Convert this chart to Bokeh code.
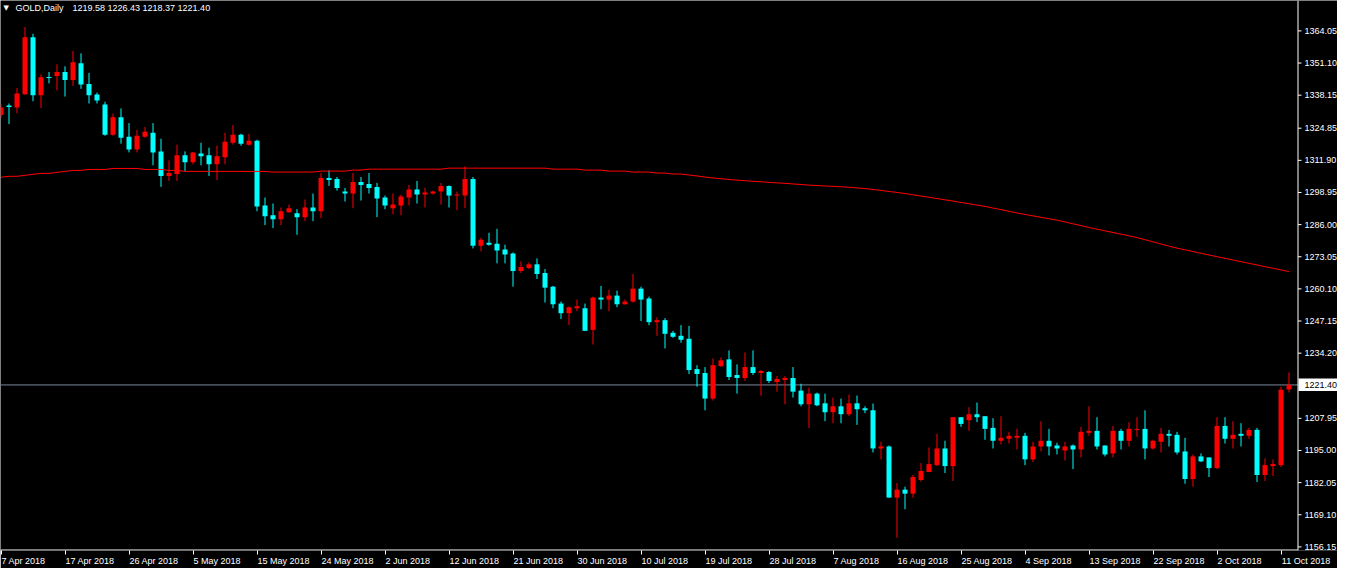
from bokeh.plotting import figure
from bokeh.models import FixedTicker, Label, Range1d
from bokeh.core.properties import value
from bokeh.embed import file_html
from bokeh.resources import INLINE

symbol = "GOLD,Daily"

opens = [
    1330.2, 1334.0, 1333.2, 1338.5, 1361.5, 1338.1, 1345.5, 1345.9, 1347.5, 1344.3,
    1351.0, 1342.7, 1338.4, 1334.4, 1322.2, 1329.3, 1321.4, 1316.3, 1321.4, 1323.0,
    1315.5, 1305.6, 1306.4, 1313.9, 1311.1, 1314.7, 1313.9, 1310.3, 1313.1, 1319.0,
    1322.2, 1318.2, 1319.8, 1293.7, 1289.8, 1288.2, 1291.0, 1290.6, 1289.0, 1292.9,
    1291.4, 1304.8, 1304.4, 1299.3, 1298.5, 1303.2, 1302.4, 1301.2, 1296.9, 1292.6,
    1293.7, 1296.9, 1300.1, 1298.1, 1298.5, 1299.3, 1301.6, 1297.7, 1297.7, 1304.4,
    1277.5, 1278.7, 1278.3, 1276.0, 1274.4, 1267.3, 1268.5, 1270.0, 1266.5, 1261.0,
    1254.2, 1250.3, 1252.3, 1252.3, 1243.6, 1256.6, 1255.8, 1257.4, 1253.9, 1255.0,
    1260.2, 1256.2, 1246.7, 1247.5, 1242.4, 1241.2, 1240.0, 1227.8, 1226.2, 1215.9,
    1229.0, 1231.7, 1225.4, 1224.2, 1228.6, 1226.2, 1226.6, 1222.6, 1223.4, 1224.2,
    1219.1, 1213.6, 1217.9, 1214.0, 1210.4, 1212.8, 1209.6, 1214.0, 1212.0, 1211.2,
    1195.8, 1196.6, 1176.0, 1179.2, 1177.6, 1183.1, 1186.3, 1189.1, 1195.8, 1188.7,
    1208.4, 1207.2, 1209.6, 1208.8, 1204.1, 1198.9, 1199.7, 1200.1, 1200.9, 1191.4,
    1196.6, 1198.9, 1197.0, 1195.0, 1197.0, 1195.4, 1202.1, 1202.9, 1197.0, 1193.8,
    1202.9, 1198.9, 1203.3, 1203.7, 1195.8, 1198.5, 1201.7, 1201.3, 1194.6, 1183.5,
    1192.6, 1192.2, 1187.9, 1204.9, 1199.7, 1201.7, 1200.9, 1203.3, 1185.1, 1188.7,
    1189.1, 1219.58,
]
highs = [
    1334.4, 1334.8, 1341.0, 1365.6, 1362.9, 1346.5, 1347.5, 1350.6, 1349.8, 1356.0,
    1355.0, 1347.1, 1339.2, 1335.5, 1330.7, 1332.8, 1326.9, 1324.2, 1325.3, 1326.9,
    1320.6, 1311.9, 1318.2, 1315.5, 1315.3, 1319.0, 1317.0, 1317.8, 1323.0, 1326.1,
    1322.6, 1322.6, 1320.2, 1296.9, 1294.5, 1292.9, 1294.1, 1292.2, 1296.1, 1298.5,
    1306.8, 1307.9, 1305.2, 1300.8, 1306.8, 1305.2, 1306.8, 1302.8, 1297.7, 1298.5,
    1298.1, 1302.0, 1303.6, 1300.8, 1299.7, 1302.8, 1301.8, 1299.3, 1309.5, 1305.2,
    1280.7, 1282.7, 1284.3, 1277.9, 1274.8, 1271.2, 1270.8, 1272.4, 1268.1, 1261.3,
    1255.0, 1253.0, 1255.8, 1254.2, 1257.0, 1261.3, 1259.8, 1259.4, 1255.8, 1266.1,
    1261.0, 1257.0, 1248.7, 1248.3, 1243.2, 1245.5, 1245.2, 1229.35, 1228.6, 1232.1,
    1232.5, 1235.3, 1229.7, 1234.5, 1235.3, 1227.4, 1227.0, 1225.0, 1225.0, 1228.6,
    1221.9, 1220.3, 1218.3, 1217.9, 1216.3, 1215.9, 1217.5, 1217.1, 1212.8, 1213.9,
    1198.5, 1197.0, 1181.9, 1180.4, 1185.1, 1189.9, 1196.2, 1201.7, 1198.9, 1208.4,
    1208.4, 1212.4, 1214.3, 1208.8, 1208.0, 1208.8, 1202.5, 1203.7, 1202.1, 1198.5,
    1206.8, 1203.7, 1198.1, 1198.5, 1197.4, 1204.5, 1212.8, 1208.4, 1197.0, 1204.9,
    1203.7, 1206.4, 1208.4, 1211.2, 1199.3, 1204.1, 1203.3, 1202.5, 1200.1, 1193.4,
    1193.8, 1192.2, 1208.4, 1208.4, 1206.8, 1206.0, 1204.1, 1204.1, 1191.8, 1191.4,
    1220.7, 1226.43,
]
lows = [
    1329.0, 1326.5, 1330.9, 1338.3, 1335.7, 1333.0, 1342.9, 1340.1, 1337.6, 1341.9,
    1340.7, 1334.8, 1334.8, 1321.8, 1321.8, 1318.6, 1315.1, 1315.1, 1321.0, 1309.9,
    1301.2, 1303.6, 1303.6, 1307.6, 1310.3, 1309.9, 1305.6, 1304.0, 1310.3, 1318.2,
    1317.8, 1317.8, 1291.4, 1285.8, 1284.6, 1285.8, 1290.8, 1281.9, 1287.4, 1287.4,
    1288.6, 1301.6, 1299.7, 1295.3, 1292.6, 1295.7, 1298.5, 1289.0, 1292.2, 1290.2,
    1289.8, 1293.7, 1294.5, 1292.9, 1298.1, 1294.1, 1292.9, 1291.8, 1292.6, 1276.4,
    1275.2, 1277.5, 1270.4, 1270.4, 1261.0, 1266.5, 1268.1, 1264.1, 1254.6, 1252.3,
    1247.9, 1245.5, 1251.1, 1243.2, 1237.7, 1251.9, 1251.1, 1252.7, 1253.8, 1254.6,
    1247.1, 1245.5, 1241.2, 1236.1, 1240.4, 1238.4, 1225.8, 1220.7, 1211.2, 1215.1,
    1228.6, 1223.4, 1217.9, 1223.0, 1225.4, 1217.1, 1222.2, 1218.7, 1213.6, 1216.3,
    1212.8, 1204.1, 1212.8, 1206.8, 1206.0, 1206.0, 1208.8, 1205.3, 1210.0, 1194.2,
    1191.4, 1176.0, 1159.8, 1171.3, 1176.0, 1182.4, 1186.3, 1188.7, 1185.9, 1182.7,
    1204.5, 1202.9, 1206.4, 1199.3, 1195.8, 1197.4, 1197.8, 1195.4, 1189.1, 1190.3,
    1194.6, 1193.0, 1193.4, 1191.0, 1187.5, 1192.2, 1200.9, 1195.4, 1192.6, 1192.2,
    1195.4, 1196.6, 1200.5, 1191.4, 1195.4, 1194.2, 1196.6, 1193.4, 1181.6, 1180.4,
    1190.3, 1184.3, 1187.5, 1197.8, 1195.8, 1196.6, 1199.7, 1182.3, 1182.7, 1184.7,
    1188.3, 1218.37,
]
closes = [
    1333.2, 1333.4, 1338.8, 1361.5, 1338.1, 1345.4, 1345.1, 1347.5, 1344.3, 1351.4,
    1342.5, 1338.1, 1336.0, 1322.2, 1329.3, 1321.0, 1316.3, 1321.8, 1323.4, 1315.1,
    1305.6, 1306.8, 1313.9, 1311.1, 1315.1, 1313.5, 1310.3, 1313.5, 1319.4, 1322.2,
    1318.6, 1319.8, 1293.3, 1289.4, 1288.2, 1291.4, 1292.6, 1289.0, 1292.9, 1291.4,
    1304.8, 1304.0, 1300.8, 1298.5, 1303.2, 1302.0, 1300.8, 1296.5, 1293.7, 1294.1,
    1297.3, 1300.1, 1298.1, 1298.9, 1299.3, 1301.6, 1297.7, 1298.1, 1304.4, 1277.5,
    1279.9, 1277.9, 1275.6, 1274.0, 1267.3, 1268.9, 1270.0, 1266.1, 1260.6, 1253.9,
    1250.3, 1252.7, 1253.1, 1243.2, 1256.6, 1255.8, 1257.4, 1253.9, 1255.0, 1260.2,
    1255.8, 1246.7, 1247.5, 1242.0, 1240.8, 1239.6, 1227.4, 1225.8, 1215.9, 1229.35,
    1231.3, 1224.6, 1224.2, 1228.6, 1226.2, 1227.0, 1223.0, 1223.8, 1224.2, 1218.7,
    1213.6, 1217.9, 1213.2, 1210.4, 1212.8, 1209.6, 1214.0, 1211.6, 1211.2, 1195.8,
    1196.6, 1176.0, 1179.2, 1177.6, 1184.3, 1186.7, 1189.5, 1195.8, 1188.7, 1208.4,
    1205.7, 1209.6, 1208.4, 1203.7, 1198.9, 1200.1, 1200.9, 1200.9, 1191.4, 1196.6,
    1198.9, 1196.6, 1195.8, 1196.6, 1195.4, 1202.5, 1202.9, 1196.6, 1193.4, 1202.9,
    1198.9, 1203.7, 1203.7, 1195.8, 1198.9, 1201.7, 1200.9, 1194.2, 1183.5, 1192.6,
    1190.6, 1187.9, 1204.9, 1199.7, 1201.3, 1200.9, 1203.3, 1185.1, 1189.1, 1189.5,
    1219.5, 1221.40,
]
moving_average = [
    1305.08, 1305.47, 1305.47, 1305.86, 1306.26, 1306.65, 1306.65, 1307.05, 1307.44, 1307.84,
    1307.84, 1308.23, 1308.23, 1308.23, 1308.63, 1308.63, 1308.63, 1308.63, 1308.23, 1308.23,
    1308.23, 1307.84, 1307.84, 1307.44, 1307.44, 1307.44, 1307.44, 1307.44, 1307.44, 1307.44,
    1307.44, 1307.44, 1307.44, 1307.44, 1307.17, 1307.17, 1307.17, 1307.17, 1307.17, 1307.17,
    1307.56, 1307.56, 1307.56, 1307.56, 1307.96, 1307.96, 1308.35, 1308.35, 1308.35, 1308.35,
    1308.35, 1308.35, 1308.35, 1308.35, 1308.35, 1308.35, 1308.75, 1308.75, 1308.75, 1308.75,
    1308.75, 1308.75, 1308.75, 1308.75, 1308.75, 1308.75, 1308.75, 1308.75, 1308.75, 1308.35,
    1308.35, 1308.35, 1308.35, 1307.96, 1307.96, 1307.96, 1307.56, 1307.56, 1307.56, 1307.17,
    1307.17, 1307.17, 1306.77, 1306.77, 1306.38, 1306.38, 1305.98, 1305.59, 1305.15, 1304.79,
    1304.48, 1304.20, 1303.93, 1303.69, 1303.45, 1303.26, 1303.02, 1302.82, 1302.63, 1302.39,
    1302.15, 1301.92, 1301.76, 1301.56, 1301.40, 1301.25, 1301.05, 1300.77, 1300.50, 1300.18,
    1299.78, 1299.35, 1298.96, 1298.52, 1298.01, 1297.50, 1297.02, 1296.50, 1295.99, 1295.48,
    1294.92, 1294.41, 1293.85, 1293.34, 1292.67, 1292.04, 1291.37, 1290.70, 1290.10, 1289.51,
    1288.92, 1288.37, 1287.78, 1287.06, 1286.31, 1285.60, 1284.85, 1284.14, 1283.47, 1282.80,
    1282.13, 1281.49, 1280.78, 1279.91, 1279.05, 1278.18, 1277.31, 1276.52, 1275.85, 1275.13,
    1274.46, 1273.75, 1273.08, 1272.41, 1271.74, 1271.07, 1270.40, 1269.73, 1269.06, 1268.42,
    1267.75, 1267.08,
]

x_tick_labels = [
    "7 Apr 2018", "17 Apr 2018", "26 Apr 2018", "5 May 2018", "15 May 2018",
    "24 May 2018", "2 Jun 2018", "12 Jun 2018", "21 Jun 2018", "30 Jun 2018",
    "10 Jul 2018", "19 Jul 2018", "28 Jul 2018", "7 Aug 2018", "16 Aug 2018",
    "25 Aug 2018", "4 Sep 2018", "13 Sep 2018", "22 Sep 2018", "2 Oct 2018",
    "11 Oct 2018",
]
bars_per_label = 8
y_tick_labels = [
    "1156.15", "1169.10", "1182.05", "1195.00", "1207.95", "1234.20", "1247.15",
    "1260.10", "1273.05", "1286.00", "1298.95", "1311.90", "1324.85", "1338.15",
    "1351.10", "1364.05",
]
price_low, price_high = 1154.69, 1376.30

BULL = "#ff0000"
BEAR = "#00ffff"
MA_COLOR = "#ff0000"
BID_COLOR = "#778899"
FG = "#ffffff"
FONT = "Liberation Sans"
FS_PX = 9
FS = f"{FS_PX}px"

# ---- layout (pixels) ----
FRAME_W, FRAME_H = 1337, 550
AXIS_PX = 1297          # column of the price-scale line
BAR_PX = 8              # horizontal distance between candles
x_start = -0.5 / BAR_PX
x_end = x_start + FRAME_W / BAR_PX
dx = 1.0 / BAR_PX                                  # data units per pixel (x)
dy = (price_high - price_low) / FRAME_H            # data units per pixel (y)
axis_x = x_start + (AXIS_PX + 0.5) * dx

n = len(opens)
idx = list(range(n))
colors = [BULL if c >= o else BEAR for o, c in zip(opens, closes)]
tops = [max(o, c) for o, c in zip(opens, closes)]
bottoms = [min(o, c) for o, c in zip(opens, closes)]
tops = [t if t - b >= dy else b + dy for t, b in zip(tops, bottoms)]   # doji: 1px body

p = figure(
    frame_width=FRAME_W, frame_height=FRAME_H,
    x_range=Range1d(x_start, x_end),
    y_range=Range1d(price_low, price_high),
    y_axis_location=None,
    output_backend="svg", toolbar_location=None,
    background_fill_color="black", border_fill_color="black",
    outline_line_color=None, min_border=0,
)
p.grid.visible = False

last = closes[-1]
# bid line
p.segment(x0=[x_start], y0=[last], x1=[axis_x], y1=[last], line_color=BID_COLOR, line_width=1)
# candles
p.segment(x0=idx, y0=lows, x1=idx, y1=highs, line_color=colors, line_width=1)
p.vbar(x=idx, width=5 / BAR_PX, top=tops, bottom=bottoms, fill_color=colors, line_color=None)
# moving average
p.line(idx, moving_average, line_color=MA_COLOR, line_width=1)

# ---- price scale on the right (drawn on the same scales) ----
tick_vals = [float(s) for s in y_tick_labels]
p.segment(x0=[axis_x], y0=[price_low], x1=[axis_x], y1=[price_high], line_color=FG, line_width=1)
p.segment(x0=[axis_x] * len(tick_vals), y0=tick_vals,
          x1=[axis_x + 3.5 * dx] * len(tick_vals), y1=tick_vals, line_color=FG, line_width=1)
p.text(x=[axis_x + 6.5 * dx] * len(tick_vals), y=tick_vals, text=y_tick_labels,
       text_color=FG, text_font=value(FONT), text_font_size=value(FS),
       text_baseline="middle", text_align="left")
# bid price tag
p.quad(left=[axis_x + 0.5 * dx], right=[x_end], bottom=[last - 6 * dy], top=[last + 6.5 * dy],
       fill_color="white", line_color=None)
p.text(x=[axis_x + 6.5 * dx], y=[last], text=[f"{last:.2f}"],
       text_color="black", text_font=value(FONT), text_font_size=value(FS),
       text_baseline="middle", text_align="left")
# bottom line of the time scale (stops at the price scale)
p.segment(x0=[x_start], y0=[price_low + 0.5 * dy], x1=[axis_x], y1=[price_low + 0.5 * dy],
          line_color=FG, line_width=1)

# ---- time scale: tick marks at the label dates, text left-aligned after each mark ----
ADV = {" ": 278, "A": 667, "M": 833, "J": 500, "S": 667, "O": 778,
       "p": 556, "r": 333, "a": 556, "y": 500, "u": 556, "n": 556, "l": 222,
       "g": 556, "e": 556, "c": 500, "t": 278}   # Liberation Sans advance widths (1/1000 em)


def text_px(s):
    return sum(ADV.get(ch, 556) for ch in s) * FS_PX / 1000.0


mark_pos = [i * bars_per_label for i in range(len(x_tick_labels))]
label_pos = [m + round((text_px(s) / 2 + 0.5) * dx * 64) / 64
             for m, s in zip(mark_pos, x_tick_labels)]
xa = p.xaxis[0]
xa.ticker = FixedTicker(ticks=label_pos, minor_ticks=mark_pos)
xa.major_label_overrides = {lp: s for lp, s in zip(label_pos, x_tick_labels)}
xa.axis_line_color = None
xa.major_tick_line_color = None
xa.major_tick_out = 4
xa.major_tick_in = 0
xa.minor_tick_line_color = FG
xa.minor_tick_out = 4
xa.minor_tick_in = 0
xa.major_label_standoff = 1
xa.major_label_text_color = FG
xa.major_label_text_font = FONT
xa.major_label_text_font_size = FS

# ---- header ----
p.add_layout(Label(x=3, y=FRAME_H - 7, x_units="screen", y_units="screen", text="\u25bc",
                   text_color=FG, text_font="DejaVu Sans", text_font_size="7px",
                   text_baseline="middle"))
p.add_layout(Label(x=15, y=FRAME_H - 7, x_units="screen", y_units="screen", text=symbol,
                   text_color=FG, text_font=FONT, text_font_size=FS, text_baseline="middle"))
ohlc_text = " ".join(f"{v:.2f}" for v in (opens[-1], highs[-1], lows[-1], closes[-1]))
p.add_layout(Label(x=72, y=FRAME_H - 7, x_units="screen", y_units="screen", text=ohlc_text,
                   text_color=FG, text_font=FONT, text_font_size=FS, text_baseline="middle"))

open("out.html", "w").write(file_html(p, INLINE))
